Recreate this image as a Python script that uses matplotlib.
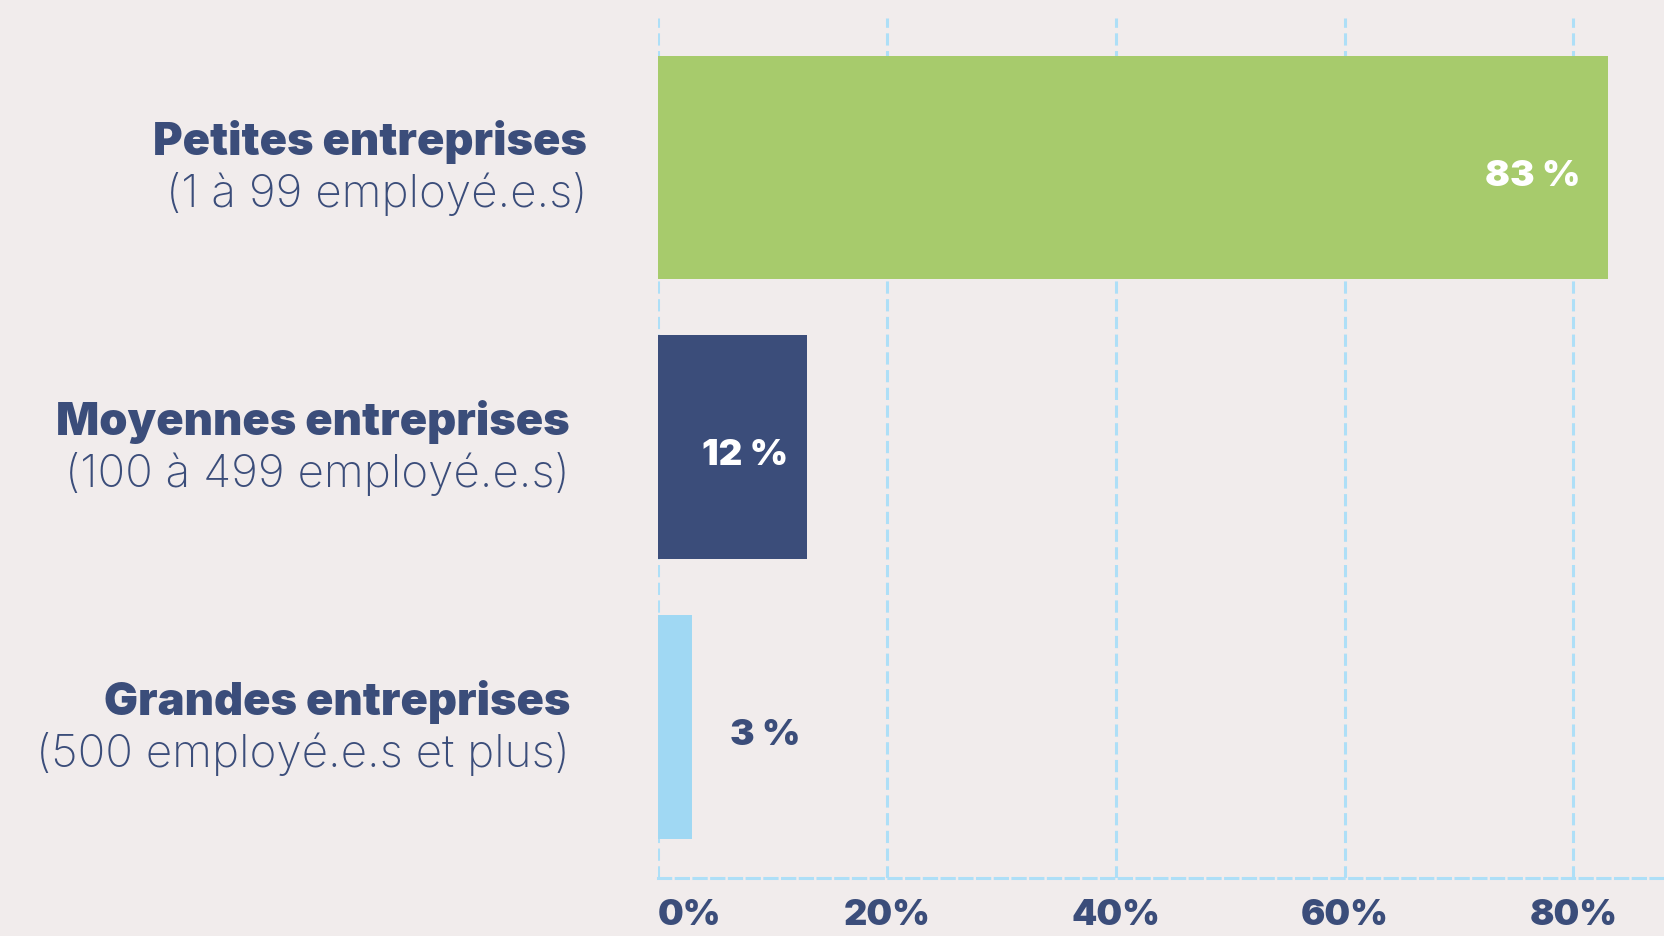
import numpy as np
import matplotlib.pyplot as plt

# données
categories = ["Petites entreprises", "Moyennes entreprises", "Grandes entreprises"]
sous_titres = ["(1 à 99 employé.e.s)", "(100 à 499 employé.e.s)", "(500 employé.e.s et plus)"]
valeurs = [83, 13, 3]
etiquettes = ["83 %", "12 %", "3 %"]
ticks = [0, 20, 40, 60, 80]
tick_labels = ["0%", "20%", "40%", "60%", "80%"]

BG = "#F1ECEC"
BLEU = "#3B4D7A"
couleurs = ["#A7CB6C", "#3B4D7A", "#A0D8F3"]
GRILLE = "#AEDFF7"

plt.rcParams['font.family'] = ['Inter', 'DejaVu Sans']

fig = plt.figure(figsize=(16.65, 9.36), dpi=100, facecolor=BG)
ax = fig.add_axes([658 / 1665, 1 - 878 / 936, 1 - 658 / 1665, 860 / 936])
ax.set_facecolor(BG)

y = np.arange(len(valeurs))
ax.barh(y, valeurs, height=0.8, color=couleurs, zorder=3)

ax.set_xlim(0, 88)
ax.set_ylim(2.54, -0.535)

# grille verticale en tirets
for t in ticks:
    ax.axvline(t, color=GRILLE, lw=2.2, dashes=(4, 1.8), zorder=1)
for s in ["top", "right", "left"]:
    ax.spines[s].set_visible(False)
ax.spines["bottom"].set_color(GRILLE)
ax.spines["bottom"].set_linewidth(2.2)
ax.spines["bottom"].set_linestyle((0, (4, 1.8)))

ax.set_yticks([])
ax.set_xticks(ticks)
ax.set_xticklabels(tick_labels, fontsize=26, fontweight=900, color=BLEU)
ax.tick_params(axis='x', length=0, pad=15)
ax.get_xticklabels()[0].set_horizontalalignment('left')

# libellés des catégories
xpos = [-0.0705, -0.0874, -0.0874]
for i in range(len(categories)):
    ax.text(xpos[i], y[i] - 0.09, categories[i], transform=ax.get_yaxis_transform(),
            ha='right', va='center', fontsize=32.5, fontweight=900, color=BLEU)
    ax.text(xpos[i], y[i] + 0.095, sous_titres[i], transform=ax.get_yaxis_transform(),
            ha='right', va='center', fontsize=33, fontweight=250, color=BLEU)

# étiquettes de valeurs
dy = 0.03
ax.text(valeurs[0] - 2.4, y[0] + dy, etiquettes[0], ha='right', va='center',
        fontsize=26.5, fontweight=900, color='white', zorder=4)
ax.text(valeurs[1] - 1.6, y[1] + dy, etiquettes[1], ha='right', va='center',
        fontsize=26.5, fontweight=900, color='white', zorder=4)
ax.text(valeurs[2] + 3.3, y[2] + dy, etiquettes[2], ha='left', va='center',
        fontsize=26.5, fontweight=900, color=BLEU, zorder=4)

fig.savefig("out.png", dpi=100, facecolor=BG)
